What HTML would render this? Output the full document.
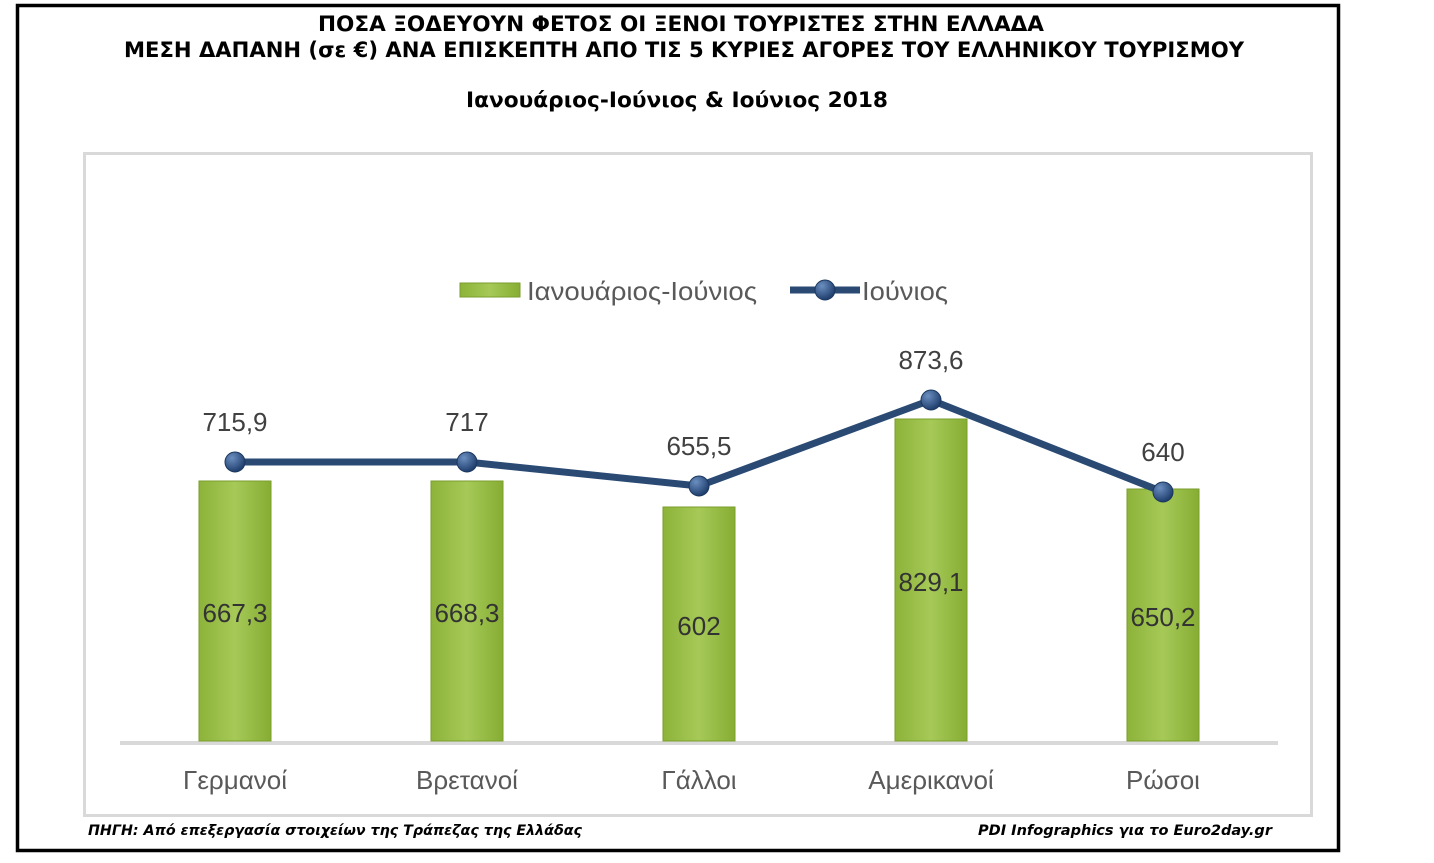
<!DOCTYPE html>
<html><head><meta charset="utf-8"><style>
body{margin:0;background:#fff;}
svg{display:block}
</style></head><body>
<svg width="1434" height="863" xmlns="http://www.w3.org/2000/svg">
<defs>
<linearGradient id="g" x1="0" x2="1" y1="0" y2="0">
<stop offset="0" stop-color="#8db33a"/><stop offset="0.5" stop-color="#a6c957"/><stop offset="1" stop-color="#86ad33"/>
</linearGradient>
<radialGradient id="m" cx="0.35" cy="0.3" r="0.7">
<stop offset="0" stop-color="#6b8fc0"/><stop offset="1" stop-color="#1f3f6e"/>
</radialGradient>
</defs>
<rect x="17.5" y="5.5" width="1321" height="845" fill="none" stroke="#000" stroke-width="3.5"/>
<rect x="84.5" y="153.5" width="1227" height="662" fill="none" stroke="#d9d9d9" stroke-width="3"/>
<g font-family="DejaVu Sans, sans-serif" font-weight="bold" font-size="21" text-anchor="middle" fill="#000">
<text x="681" y="31" textLength="726" lengthAdjust="spacingAndGlyphs">ΠΟΣΑ ΞΟΔΕΥΟΥΝ ΦΕΤΟΣ ΟΙ  ΞΕΝΟΙ ΤΟΥΡΙΣΤΕΣ ΣΤΗΝ ΕΛΛΑΔΑ</text>
<text x="684" y="57" textLength="1120" lengthAdjust="spacingAndGlyphs">ΜΕΣΗ ΔΑΠΑΝΗ (σε €) ΑΝΑ ΕΠΙΣΚΕΠΤΗ ΑΠΟ ΤΙΣ 5 ΚΥΡΙΕΣ ΑΓΟΡΕΣ ΤΟΥ ΕΛΛΗΝΙΚΟΥ ΤΟΥΡΙΣΜΟΥ</text>
<text x="677" y="107" textLength="422" lengthAdjust="spacingAndGlyphs">Ιανουάριος-Ιούνιος &amp; Ιούνιος  2018</text>
</g>
<line x1="120" y1="743" x2="1278" y2="743" stroke="#d9d9d9" stroke-width="4"/>
<g fill="url(#g)" stroke="#7a9e2c" stroke-width="1">
<rect x="199" y="481" width="72" height="260"/>
<rect x="431" y="481" width="72" height="260"/>
<rect x="663" y="507" width="72" height="234"/>
<rect x="895" y="419" width="72" height="322"/>
<rect x="1127" y="489" width="72" height="252"/>
</g>
<g font-family="Liberation Sans, sans-serif" font-size="26" text-anchor="middle" fill="#333">
<text x="235" y="622">667,3</text>
<text x="467" y="622">668,3</text>
<text x="699" y="635">602</text>
<text x="931" y="591">829,1</text>
<text x="1163" y="626">650,2</text>
</g>
<polyline points="235,462 467,462 699,486 931,400 1163,492" fill="none" stroke="#2a4a74" stroke-width="7" stroke-linejoin="round"/>
<g fill="url(#m)" stroke="#1a365e" stroke-width="1">
<circle cx="235" cy="462" r="10"/><circle cx="467" cy="462" r="10"/><circle cx="699" cy="486" r="10"/><circle cx="931" cy="400" r="10"/><circle cx="1163" cy="492" r="10"/>
</g>
<g font-family="Liberation Sans, sans-serif" font-size="26" text-anchor="middle" fill="#404040">
<text x="235" y="431">715,9</text>
<text x="467" y="431">717</text>
<text x="699" y="455">655,5</text>
<text x="931" y="369">873,6</text>
<text x="1163" y="461">640</text>
</g>
<rect x="460" y="283" width="60" height="14" fill="url(#g)" stroke="#7a9e2c"/>
<line x1="790" y1="290" x2="860" y2="290" stroke="#2a4a74" stroke-width="7"/>
<circle cx="825" cy="290" r="10" fill="url(#m)" stroke="#1a365e"/>
<g font-family="Liberation Sans, sans-serif" font-size="26" fill="#595959">
<text x="527" y="300" textLength="230" lengthAdjust="spacingAndGlyphs">Ιανουάριος-Ιούνιος</text>
<text x="862" y="300" textLength="86" lengthAdjust="spacingAndGlyphs">Ιούνιος</text>
</g>
<g font-family="Liberation Sans, sans-serif" font-size="26" text-anchor="middle" fill="#595959">
<text x="235" y="789">Γερμανοί</text>
<text x="467" y="789">Βρετανοί</text>
<text x="699" y="789">Γάλλοι</text>
<text x="931" y="789">Αμερικανοί</text>
<text x="1163" y="789">Ρώσοι</text>
</g>
<g font-family="DejaVu Sans, sans-serif" font-weight="bold" font-style="italic" font-size="14" fill="#000">
<text x="88" y="835" textLength="494" lengthAdjust="spacingAndGlyphs">ΠΗΓΗ: Από επεξεργασία στοιχείων της Τράπεζας της Ελλάδας</text>
<text x="978" y="835" textLength="294" lengthAdjust="spacingAndGlyphs">PDI Infographics για το Euro2day.gr</text>
</g>
</svg>
</body></html>
